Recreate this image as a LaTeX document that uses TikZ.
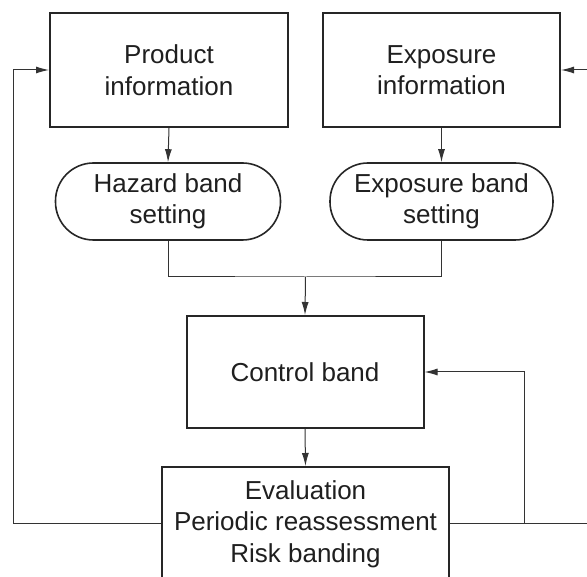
\documentclass[tikz,border=0pt]{standalone}
\usepackage{fontspec}
\setmainfont{Liberation Sans}
\usetikzlibrary{arrows.meta}
\begin{document}
\begin{tikzpicture}[x=1pt,y=-1pt,
  txt/.style={font=\fontsize{26}{31.5}\selectfont, align=center, inner sep=0pt, text=black!88},
  boxnode/.style={txt, draw=black!85, line width=2pt},
  ovalnode/.style={txt, draw=black!85, line width=1.6pt, rounded corners=38pt},
  conn/.style={draw=black!80, line width=1pt},
  arr/.style={conn, -{Latex[length=13pt,width=7pt]}}]
\useasboundingbox (0,0) rectangle (587,577);
\clip (0,0) rectangle (587,577);
% nodes
\node[boxnode, minimum width=238pt, minimum height=114pt] (prod) at (169,70) {Product\\information};
\node[boxnode, minimum width=237pt, minimum height=114pt] (expo) at (441.5,70) {Exposure\\information};
\node[ovalnode, minimum width=225pt, minimum height=77pt] (haz) at (168,201.5) {Hazard band\\setting};
\node[ovalnode, minimum width=223pt, minimum height=77pt] (expb) at (441.5,201.5) {Exposure band\\setting};
\node[boxnode, minimum width=237pt, minimum height=112pt] (ctrl) at (305,372) {Control band};
\node[boxnode, minimum width=287pt, minimum height=130pt, anchor=north, text depth=21.5pt] (eval) at (305.5,466) {Evaluation\\Periodic reassessment\\Risk banding};
% coordinates
\coordinate (merge) at (305.5,277);
\coordinate (lcorner) at (13,523);
\coordinate (rcorner) at (524,523);
\coordinate (redge) at (595,523);
\coordinate (rin) at (595,70);
% connectors
\draw[arr] (prod.south) -- (haz.north);
\draw[arr] (expo.south) -- (expb.north);
\draw[conn] (haz.south) |- (merge) -| (expb.south);
\draw[arr] (merge) -- (ctrl.north);
\draw[arr] (ctrl.south) -- (eval.north);
\draw[arr] (eval.west |- lcorner) -- (lcorner) |- (prod.west);
\draw[conn] (eval.east |- rcorner) -- (redge);
\draw[arr] (rcorner) |- (ctrl.east);
\draw[arr] (rin) -- (expo.east);
\end{tikzpicture}
\end{document}
